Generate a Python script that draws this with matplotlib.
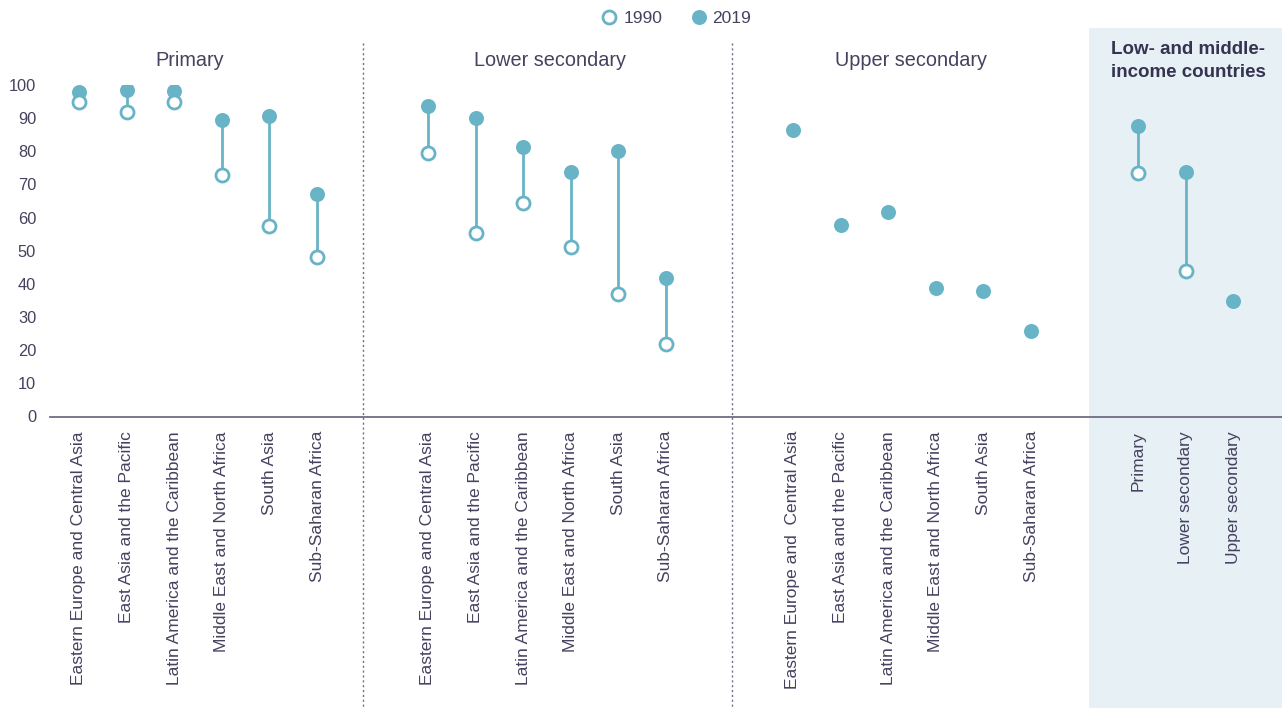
import matplotlib
matplotlib.use("Agg")
import matplotlib.pyplot as plt
from matplotlib.lines import Line2D
from matplotlib.patches import Rectangle
import numpy as np

# ---------------- data ----------------
regions = ["Eastern Europe and Central Asia", "East Asia and the Pacific",
           "Latin America and the Caribbean", "Middle East and North Africa",
           "South Asia", "Sub-Saharan Africa"]
regions_upper = ["Eastern Europe and  Central Asia", "East Asia and the Pacific",
                 "Latin America and the Caribbean", "Middle East and North Africa",
                 "South Asia", "Sub-Saharan Africa"]
lmic_levels = ["Primary", "Lower secondary", "Upper secondary"]
group_titles = ["Primary", "Lower secondary", "Upper secondary",
                "Low- and middle-\nincome countries"]

primary_1990 = [95, 92, 95, 73, 57.5, 48.2]
primary_2019 = [98, 98.5, 98.3, 89.5, 90.6, 67]
lower_1990 = [79.4, 55.5, 64.5, 51, 37, 22]
lower_2019 = [93.8, 90, 81.2, 73.8, 80, 41.7]
upper_1990 = [None, None, None, None, None, None]
upper_2019 = [86.5, 57.7, 61.7, 38.9, 37.9, 25.9]
lmic_1990 = [73.5, 43.8, None]
lmic_2019 = [87.6, 73.7, 34.8]

yticks = [0, 10, 20, 30, 40, 50, 60, 70, 80, 90, 100]

# ---------------- style ----------------
TEAL = "#68b4c6"
TEXT = "#45425f"
SHADE = "#e6f0f5"
DIV = "#6f6d85"
FONT = "Liberation Sans"

plt.rcParams["font.family"] = [FONT, "DejaVu Sans"]

W, H = 1282, 708
fig = plt.figure(figsize=(W / 100, H / 100), dpi=100)

ax_left_px, ax_right_px = 50, 1282
y0_px, y100_px = 416.5, 85
ax = fig.add_axes([ax_left_px / W, (H - y0_px) / H,
                   (ax_right_px - ax_left_px) / W, (y0_px - y100_px) / H])

slot = 47.6
first_px = 79
ax.set_xlim((ax_left_px - first_px) / slot, (ax_right_px - first_px) / slot)
ax.set_ylim(0, 100)

group_starts = [0, 7.33, 15.0, 22.25]
title_px = [190, 550, 911, 1188]
groups = [
    (regions, primary_1990, primary_2019),
    (regions, lower_1990, lower_2019),
    (regions_upper, upper_1990, upper_2019),
    (lmic_levels, lmic_1990, lmic_2019),
]

# shaded LMIC panel and dividers (extend beyond axes)
px_to_ax = lambda py: (y0_px - py) / (y0_px - y100_px)
shade_x0 = (1089 - first_px) / slot
shade = Rectangle((shade_x0, px_to_ax(708)), ax.get_xlim()[1] - shade_x0,
                  px_to_ax(28) - px_to_ax(708),
                  transform=ax.get_xaxis_transform(), facecolor=SHADE,
                  edgecolor="none", clip_on=False, zorder=0)
ax.add_patch(shade)
for dpx in (363, 732):
    xd = (dpx - first_px) / slot
    ax.plot([xd, xd], [px_to_ax(43), px_to_ax(708)], transform=ax.get_xaxis_transform(),
            color=DIV, lw=1.0, ls=(0, (1.5, 2.0)), clip_on=False, zorder=1)

all_x, all_labels = [], []
for gi, (labels, v90, v19) in enumerate(groups):
    xs = group_starts[gi] + np.arange(len(labels))
    all_x.extend(xs)
    all_labels.extend(labels)
    for x, a, b in zip(xs, v90, v19):
        if a is not None and b is not None:
            ax.vlines(x, a, b, color=TEAL, lw=2.0, zorder=2)
    x19 = [x for x, b in zip(xs, v19) if b is not None]
    y19 = [b for b in v19 if b is not None]
    ax.plot(x19, y19, ls="none", marker="o", ms=10.8, mfc=TEAL, mec=TEAL, mew=0, zorder=3)
    x90 = [x for x, a in zip(xs, v90) if a is not None]
    y90 = [a for a in v90 if a is not None]
    if x90:
        ax.plot(x90, y90, ls="none", marker="o", ms=9.4, mfc="white", mec=TEAL,
                mew=2.0, zorder=4)
    cx = (title_px[gi] - first_px) / slot
    if gi < 3:
        ax.text(cx, px_to_ax(61), group_titles[gi], transform=ax.get_xaxis_transform(),
                ha="center", va="center", fontsize=14.3, color=TEXT)
    else:
        ax.text(cx, px_to_ax(61), group_titles[gi], transform=ax.get_xaxis_transform(),
                ha="center", va="center", fontsize=13.5, color="#35334f", fontweight="bold",
                linespacing=1.45)

ax.set_xticks(all_x)
ax.set_xticklabels(all_labels, rotation=90, fontsize=12.5, color=TEXT)
ax.set_yticks(yticks)
ax.set_yticklabels([str(t) for t in yticks], fontsize=11.8, color=TEXT)
ax.tick_params(axis="both", length=0)
ax.tick_params(axis="x", pad=10.5)
ax.tick_params(axis="y", pad=10)

for s in ("top", "right", "left"):
    ax.spines[s].set_visible(False)
ax.spines["bottom"].set_color(DIV)
ax.spines["bottom"].set_linewidth(1.3)
ax.set_facecolor("none")

handles = [
    Line2D([], [], ls="none", marker="o", ms=9.4, mfc="white", mec=TEAL, mew=2.0),
    Line2D([], [], ls="none", marker="o", ms=10.8, mfc=TEAL, mec=TEAL, mew=0),
]
fig.legend(handles, ["1990", "2019"], loc="center", bbox_to_anchor=(676 / W, 1 - 18 / H),
           ncol=2, frameon=False, fontsize=12.5, handletextpad=0.3, columnspacing=1.6,
           labelcolor=TEXT, handlelength=1.0)

fig.savefig("out.png", dpi=100)
